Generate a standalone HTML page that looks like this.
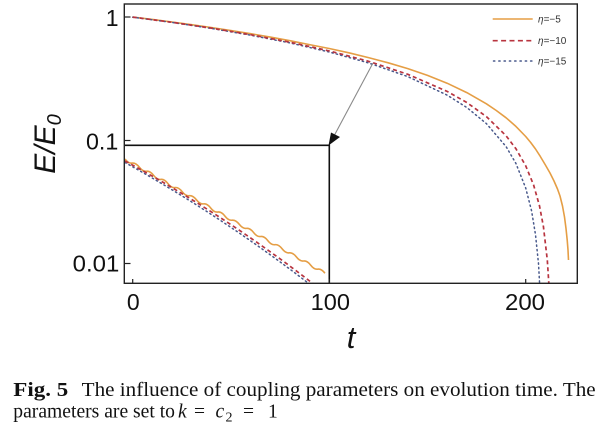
<!DOCTYPE html>
<html><head><meta charset="utf-8"><style>
html,body{margin:0;padding:0;background:#fff;}
svg{display:block;}
</style></head><body>
<svg width="606" height="430" viewBox="0 0 606 430" xmlns="http://www.w3.org/2000/svg">
<rect width="606" height="430" fill="#fff"/>
<defs><clipPath id="pa"><rect x="124.3" y="4" width="453" height="279.3"/></clipPath></defs>

<g clip-path="url(#pa)" fill="none" stroke-linejoin="round">
<polyline stroke="#E59E45" stroke-width="1.6" points="132.7,17 152.35,19.4 172,22 191.6,24.7 211.3,27.5 230.9,30.5 250.6,33.7 270.2,37.1 289.9,40.7 309.5,44.6 329.2,48.5 348.9,52.8 368.5,57.6 388.2,62.8 407.8,68.6 427.5,75.4 447.1,83.2 466.8,92.6 486.4,103.8 496.3,110.5 506.1,117.8 515.9,126.4 525.7,136.5 530.6,142.4 535.5,149 540.4,156.6 545.4,165 550,173 554,181 557.5,189 560,196 562.5,206 564.5,217 566,228.5 567.2,240 568,250 568.5,260"/>
<polyline stroke="#4A5A8C" stroke-width="1.5" stroke-dasharray="1.3,3.2" stroke-linecap="round" points="132.7,17.2 172,22.4 211.3,28.4 250.6,35.2 289.9,42.9 329.2,52 368.5,62.9 407.8,76.6 447.1,95.1 466.8,107.5 486.4,123.6 506.1,146.6 515.9,163.4 525.7,188 531.6,211 535.5,234.7 538.5,263.6 540.4,298"/>
<polyline stroke="#B8343F" stroke-width="1.7" stroke-dasharray="4,3" points="132.7,17.1 172,22.3 211.3,28.1 250.6,34.7 289.9,42.2 329.2,50.9 368.5,61.3 407.8,74.3 447.1,91.4 466.8,102.5 486.4,116.6 506.1,135.8 515.9,148.7 525.7,165.8 533.6,185 539.5,205.9 543.4,226.4 547.3,260 549.3,290.5"/>

<!-- inset curves -->
<path stroke="#E59E45" stroke-width="1.6" d="M125,159 q3.57,4.64 7.14,4.08 t7.14,4.08 t7.14,4.08 t7.14,4.08 t7.14,4.08 t7.14,4.08 t7.14,4.08 t7.14,4.08 t7.14,4.08 t7.14,4.08 t7.14,4.08 t7.14,4.08 t7.14,4.08 t7.14,4.08 t7.14,4.08 t7.14,4.08 t7.14,4.08 t7.14,4.08 t7.14,4.08 t7.14,4.08 t7.14,4.08 t7.14,4.08 t7.14,4.08 t7.14,4.08 t7.14,4.08 t7.14,4.08 t7.14,4.08 t7.14,4.08"/>
<path stroke="#4A5A8C" stroke-width="1.5" stroke-dasharray="1.3,3.2" stroke-linecap="round" d="M125,162.5 Q223,217 312,286"/>
<path stroke="#B8343F" stroke-width="1.7" stroke-dasharray="4,3" d="M125,161 Q225,215 316,286"/>
</g>

<!-- inset box -->
<path d="M124.3,145.3 H329.3 V283.3" fill="none" stroke="#111" stroke-width="1.6"/>

<!-- arrow -->
<line x1="373" y1="63" x2="334" y2="136" stroke="#8a8a8a" stroke-width="1.1"/>
<polygon points="328.5,145.5 331,132.5 340,137" fill="#111"/>

<!-- frame -->
<rect x="124.3" y="4" width="453" height="279.3" fill="none" stroke="#222" stroke-width="1.4"/>

<!-- ticks -->
<g stroke="#222" stroke-width="1.2">
<line x1="124.3" y1="17" x2="130.5" y2="17"/>
<line x1="124.3" y1="140.5" x2="130.5" y2="140.5"/>
<line x1="124.3" y1="263.5" x2="130.5" y2="263.5"/>
<line x1="132.7" y1="283.3" x2="132.7" y2="279"/>
<line x1="329.2" y1="283.3" x2="329.2" y2="279"/>
<line x1="525.7" y1="283.3" x2="525.7" y2="279"/>
</g>

<g font-family="'Liberation Sans', Arial, sans-serif" font-size="23" fill="#111">
<text x="118.5" y="26" text-anchor="end">1</text>
<text x="86" y="149.3" textLength="32.3" lengthAdjust="spacingAndGlyphs">0.1</text>
<text x="72.7" y="271.7" textLength="46.6" lengthAdjust="spacingAndGlyphs">0.01</text>
<text x="133.3" y="310" text-anchor="middle">0</text>
<text x="310.7" y="310" textLength="39.3" lengthAdjust="spacingAndGlyphs">100</text>
<text x="505" y="310" textLength="40" lengthAdjust="spacingAndGlyphs">200</text>
</g>

<text x="351" y="348" text-anchor="middle" font-family="'Liberation Sans', Arial, sans-serif" font-size="31" font-style="italic" fill="#111">t</text>

<text transform="translate(55,144) rotate(-90)" text-anchor="middle" font-family="'Liberation Sans', Arial, sans-serif" font-size="30" font-style="italic" fill="#111">E/E<tspan font-size="20" dy="6">0</tspan></text>

<!-- legend -->
<line x1="492.7" y1="19" x2="532.7" y2="19" stroke="#E59E45" stroke-width="1.6"/>
<line x1="492.7" y1="40.7" x2="532.7" y2="40.7" stroke="#B8343F" stroke-width="1.7" stroke-dasharray="5,3.4"/>
<line x1="493.5" y1="61" x2="532.7" y2="61" stroke="#4A5A8C" stroke-width="1.5" stroke-dasharray="1.3,4" stroke-linecap="round"/>
<g font-family="'Liberation Sans', Arial, sans-serif" font-size="10" fill="#333">
<text x="538" y="22.5"><tspan font-style="italic">η</tspan>=−5</text>
<text x="538" y="44.2"><tspan font-style="italic">η</tspan>=−10</text>
<text x="538" y="64.5"><tspan font-style="italic">η</tspan>=−15</text>
</g>

<!-- caption -->
<g font-family="'Liberation Serif', 'Times New Roman', serif" font-size="19.5" fill="#111">
<text x="13.3" y="396" font-weight="bold" textLength="55" lengthAdjust="spacingAndGlyphs">Fig. 5</text>
<text x="81.7" y="396" textLength="514" lengthAdjust="spacingAndGlyphs">The influence of coupling parameters on evolution time. The</text>
<text x="13.3" y="417.7" textLength="161.7" lengthAdjust="spacingAndGlyphs">parameters are set to</text>
<text x="178" y="417.7" font-style="italic">k</text>
<text x="194" y="417.7">=</text>
<text x="215.5" y="417.7" font-style="italic">c</text>
<text x="225.5" y="421.5" font-size="14">2</text>
<text x="243" y="417.7">=</text>
<text x="268" y="417.7">1</text>
</g>
</svg>
</body></html>
